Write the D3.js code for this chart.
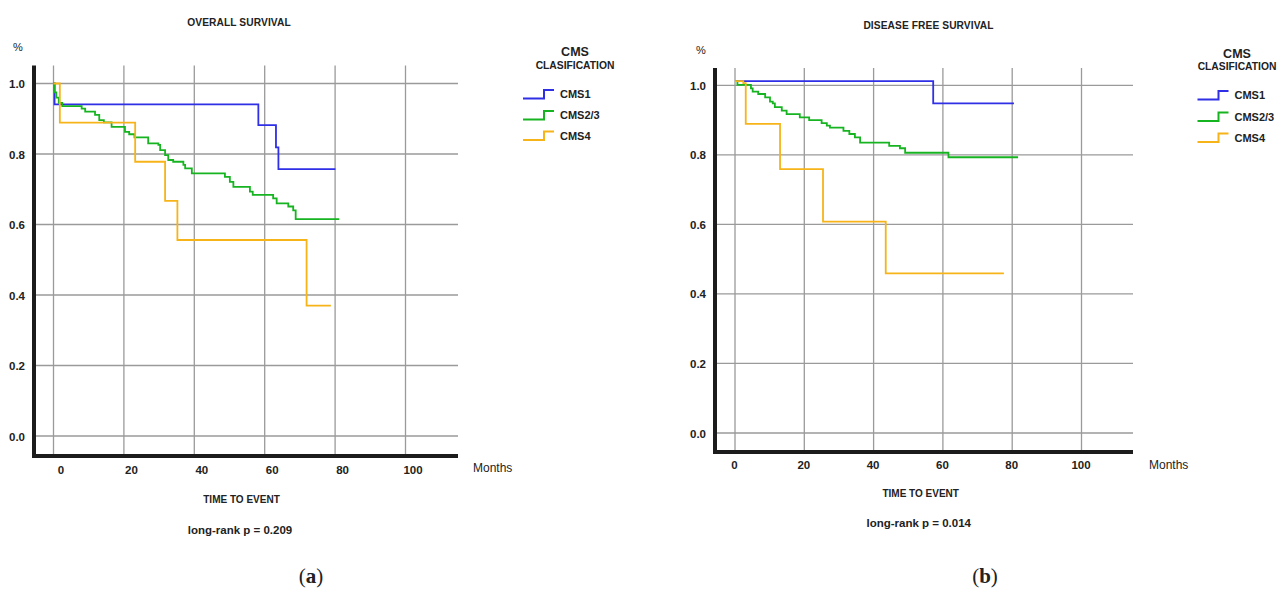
<!DOCTYPE html>
<html><head><meta charset="utf-8">
<script src="https://cdn.jsdelivr.net/npm/d3@7"></script>
<style>
html,body{margin:0;padding:0;background:#fff;}
svg text{font-family:"Liberation Sans",Arial,sans-serif;fill:#222;}
</style></head>
<body><svg id="c" width="1288" height="590"></svg>
<script>
// ---------- DATA ----------
const xTicks = [0, 20, 40, 60, 80, 100];
const yTicks = [0.0, 0.2, 0.4, 0.6, 0.8, 1.0];
const seriesNames = ["CMS1", "CMS2/3", "CMS4"];
const seriesColors = ["#2f2fe6", "#16b420", "#f6b419"];

// (a) Overall survival
const osCms1Time = [0, 0.3, 58.2, 63.2, 63.9];
const osCms1Surv = [1.0, 0.941, 0.882, 0.819, 0.757];
const osCms1End = 80.1;
const osCms23Time = [0, 0.3, 0.8, 1.5, 2.5, 8.0, 9.0, 11.8, 13.0, 14.3, 16.5, 20.3, 21.5, 23.0, 26.9, 29.8, 30.3, 31.7, 32.6, 34.0, 36.9, 37.4, 39.3, 48.7, 50.1, 51.1, 55.8, 56.6, 62.4, 63.4, 66.7, 68.1, 68.8];
const osCms23Surv = [1.0, 0.975, 0.96, 0.945, 0.936, 0.929, 0.920, 0.911, 0.896, 0.890, 0.877, 0.863, 0.856, 0.847, 0.830, 0.826, 0.811, 0.797, 0.783, 0.778, 0.769, 0.759, 0.745, 0.735, 0.721, 0.707, 0.693, 0.684, 0.674, 0.660, 0.651, 0.640, 0.615];
const osCms23End = 81.2;
const osCms4Time = [0, 1.8, 23.2, 31.7, 35.2, 71.9];
const osCms4Surv = [1.0, 0.889, 0.778, 0.667, 0.556, 0.370];
const osCms4End = 78.8;

// (b) Disease free survival
const dfsCms1Time = [0, 57.2];
const dfsCms1Surv = [1.012, 0.948];
const dfsCms1End = 80.5;
const dfsCms23Time = [0, 0.7, 4.6, 5.1, 6.7, 8.7, 10.1, 10.9, 11.5, 13.5, 14.9, 18.7, 21.4, 25.0, 26.5, 27.4, 31.3, 33.0, 34.6, 36.1, 44.5, 47.6, 49.1, 61.6];
const dfsCms23Surv = [1.012, 1.001, 0.991, 0.982, 0.975, 0.965, 0.953, 0.948, 0.937, 0.927, 0.917, 0.908, 0.900, 0.891, 0.884, 0.878, 0.869, 0.860, 0.850, 0.835, 0.826, 0.819, 0.806, 0.793];
const dfsCms23End = 81.7;
const dfsCms4Time = [0, 2.4, 3.1, 13.0, 25.4, 43.5];
const dfsCms4Surv = [1.012, 1.006, 0.889, 0.759, 0.608, 0.459];
const dfsCms4End = 77.6;

// ---------- DRAW ----------
const svg = d3.select("#c");
svg.append("rect").attr("width",1288).attr("height",590).attr("fill","#fff");

function toPts(t, s, end){ const p = t.map((v,i)=>[v,s[i]]); p.push([end, s[s.length-1]]); return p; }

function panel(cfg){
  const g = svg.append("g");
  const x = d3.scaleLinear().domain([0,100]).range(cfg.xr);
  const y = d3.scaleLinear().domain([0,1]).range(cfg.yr);
  // grid
  g.append("g").selectAll("line").data(xTicks).join("line")
    .attr("x1",d=>x(d)).attr("x2",d=>x(d)).attr("y1",cfg.top).attr("y2",cfg.bottom)
    .attr("stroke","#9a9a9a").attr("stroke-width",1.3);
  g.append("g").selectAll("line").data(yTicks).join("line")
    .attr("x1",cfg.left).attr("x2",cfg.right).attr("y1",d=>y(d)).attr("y2",d=>y(d))
    .attr("stroke","#9a9a9a").attr("stroke-width",1.3);
  // y tick labels
  const ya = d3.axisLeft(y).tickValues(yTicks).tickFormat(d3.format(".1f")).tickSize(0).tickPadding(9);
  const yg = g.append("g").attr("transform",`translate(${cfg.left},0)`).call(ya);
  yg.select(".domain").remove();
  yg.selectAll("text").attr("font-size",11.5).attr("font-weight","bold").attr("fill","#222").attr("font-family","Liberation Sans, Arial").attr("dy","0.35em");
  // x tick labels
  const xa = d3.axisBottom(x).tickValues(xTicks).tickFormat(d3.format("d")).tickSize(0).tickPadding(0);
  const xg = g.append("g").attr("transform",`translate(${cfg.xLabelDx},${cfg.xLabelY})`).call(xa);
  xg.select(".domain").remove();
  xg.selectAll("text").attr("font-size",11.5).attr("font-weight","bold").attr("fill","#222").attr("font-family","Liberation Sans, Arial").attr("dy","0.35em");
  // curves
  const line = d3.line().x(d=>x(d[0])).y(d=>y(d[1])).curve(d3.curveStepAfter);
  cfg.series.forEach((s,i)=>{
    g.append("path").attr("d",line(toPts(s.t,s.s,s.end))).attr("fill","none")
      .attr("stroke",seriesColors[i]).attr("stroke-width",1.8);
  });
  // thick axes
  g.append("line").attr("x1",cfg.left).attr("x2",cfg.left).attr("y1",cfg.top).attr("y2",cfg.bottom+2)
    .attr("stroke","#1c1c1c").attr("stroke-width",4);
  g.append("line").attr("x1",cfg.left-2).attr("x2",cfg.right).attr("y1",cfg.bottom).attr("y2",cfg.bottom)
    .attr("stroke","#1c1c1c").attr("stroke-width",4);
  // texts
  const T = (txt,xx,yy,opt)=>{ const t=g.append("text").text(txt).attr("x",xx).attr("y",yy).attr("dy","0.35em")
      .attr("text-anchor",opt.anchor||"middle").attr("font-size",opt.size).attr("font-weight",opt.weight||"bold");
      if(opt.ls) t.attr("letter-spacing",opt.ls); if(opt.family) t.style("font-family",opt.family); return t; };
  T(cfg.title, cfg.titleX, cfg.titleY, {size:10.2, ls:0.1});
  T("%", cfg.pctX, cfg.pctY, {size:11, weight:"normal", anchor:"start"});
  T("Months", cfg.monthsX, cfg.monthsY, {size:12, weight:"normal", anchor:"start"});
  T("TIME TO EVENT", cfg.timeX, cfg.timeY, {size:10});
  T(cfg.pText, cfg.pX, cfg.pY, {size:11.5});
  // legend
  T("CMS", cfg.legCx, cfg.legTitleY, {size:12.5});
  T("CLASIFICATION", cfg.legCx, cfg.legTitleY+13.5, {size:10.3});
  seriesNames.forEach((n,i)=>{
    const yy = cfg.legRowY[i];
    const x0 = cfg.legX;
    g.append("path").attr("d",`M${x0},${yy+4}H${x0+21}V${yy-4.5}H${x0+31}`)
      .attr("fill","none").attr("stroke",seriesColors[i]).attr("stroke-width",2);
    T(n, x0+37, yy, {size:11, anchor:"start"});
  });
  // panel label
  const lab = g.append("text").attr("x",cfg.labX).attr("y",583).attr("text-anchor","middle")
    .attr("font-size",21).style("font-family","Liberation Serif, Times New Roman, serif");
  lab.append("tspan").text("(");
  lab.append("tspan").text(cfg.lab).attr("font-weight","bold");
  lab.append("tspan").text(")");
}

panel({
  xr:[53.5,405.5], yr:[436,83.5], left:34, right:458, top:65.5, bottom:456,
  xLabelDx:7, xLabelY:469.5,
  title:"OVERALL SURVIVAL", titleX:239, titleY:22.5, pctX:13, pctY:47.5,
  monthsX:473, monthsY:467.5, timeX:241.5, timeY:499, pText:"long-rank p = 0.209", pX:240, pY:530,
  legCx:575, legTitleY:51.7, legX:523, legRowY:[94.5,115.5,136],
  labX:311, lab:"a",
  series:[{t:osCms1Time,s:osCms1Surv,end:osCms1End},{t:osCms23Time,s:osCms23Surv,end:osCms23End},{t:osCms4Time,s:osCms4Surv,end:osCms4End}]
});
panel({
  xr:[735,1081.5], yr:[433,85.3], left:715, right:1133, top:68, bottom:452,
  xLabelDx:-1, xLabelY:465,
  title:"DISEASE FREE SURVIVAL", titleX:928.5, titleY:25.5, pctX:696, pctY:50,
  monthsX:1149, monthsY:464.3, timeX:920.7, timeY:493.3, pText:"long-rank p = 0.014", pX:918.7, pY:522.7,
  legCx:1237, legTitleY:53.3, legX:1197.5, legRowY:[95.5,117,138],
  labX:985, lab:"b",
  series:[{t:dfsCms1Time,s:dfsCms1Surv,end:dfsCms1End},{t:dfsCms23Time,s:dfsCms23Surv,end:dfsCms23End},{t:dfsCms4Time,s:dfsCms4Surv,end:dfsCms4End}]
});
</script></body></html>
